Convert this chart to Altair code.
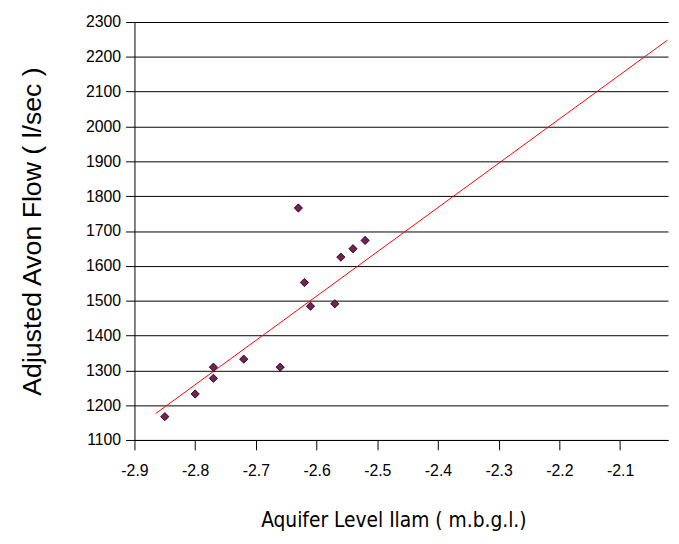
import altair as alt
import pandas as pd

aquifer_level = [-2.85, -2.80, -2.77, -2.77, -2.72, -2.66, -2.63, -2.62, -2.61, -2.57, -2.56, -2.54, -2.52]
avon_flow = [1167, 1232, 1309, 1277, 1332, 1309, 1766, 1552, 1484, 1491, 1625, 1649, 1673]

trend_x = [-2.865, -2.022]
trend_y = [1176, 2248]

y_ticks = list(range(1100, 2301, 100))
x_ticks = [-2.9, -2.8, -2.7, -2.6, -2.5, -2.4, -2.3, -2.2, -2.1]

pts = pd.DataFrame({"x": aquifer_level, "y": avon_flow})
trend = pd.DataFrame({"x": trend_x, "y": trend_y})

W, H = 540, 423
SANS = "Liberation Sans, Arial, sans-serif"

xscale = alt.Scale(domain=[-2.9, -2.021], nice=False, zero=False)
yscale = alt.Scale(domain=[1100, 2300], nice=False, zero=False)

xaxis = alt.Axis(
    title="Aquifer Level Ilam ( m.b.g.l.)",
    values=x_ticks, grid=False, tickCount=30,
    labelExpr="datum.value < 0 ? '-' + format(-datum.value, '.1f') : format(datum.value, '.1f')",
    labelOverlap=False,
    tickSize=10, tickColor="black", domainColor="black",
    labelFont=SANS, labelFontSize=16, labelColor="black",
    labelPadding=13, labelFlush=False,
    titleFont="'Liberation Sans Narrow', 'DejaVu Sans Condensed', 'Liberation Sans', sans-serif",
    titleFontSize=21, titleFontWeight="normal",
    titleColor="black", titleX=262, titleY=82, titleBaseline="middle", titleAlign="center",
)
yaxis = alt.Axis(
    title="Adjusted Avon Flow ( l/sec )",
    values=y_ticks, grid=True, gridColor="black", gridOpacity=1, gridWidth=1,
    labelExpr="format(datum.value, 'd')",
    labelOverlap=False, tickCount=30,
    tickSize=9, tickColor="black", domainColor="black",
    labelFont=SANS, labelFontSize=16, labelColor="black",
    labelPadding=5, labelFlush=False,
    titleFont=SANS, titleFontSize=27, titleFontWeight="normal",
    titleColor="black", titleX=-103, titleY=H / 2, titleBaseline="middle", titleAlign="center",
    titleAngle=270,
)

base_x = alt.X("x:Q", scale=xscale, axis=xaxis)
base_y = alt.Y("y:Q", scale=yscale, axis=yaxis)

line = alt.Chart(trend).mark_line(color="red", strokeWidth=1, clip=True).encode(
    x=base_x, y=base_y,
)

points = alt.Chart(pts).mark_point(
    shape="diamond", filled=True, fill="#7a1f52", stroke="black", strokeWidth=0.8,
    size=70, opacity=1,
).encode(
    x=base_x, y=base_y,
)

chart = alt.layer(line, points).properties(
    width=W, height=H,
    padding={"left": 128, "top": 11, "right": 3, "bottom": 94},
    autosize=alt.AutoSizeParams(type="none"),
    background="white",
).configure_view(stroke=None)

chart.save("out.html", embed_options={"renderer": "svg", "actions": False})
